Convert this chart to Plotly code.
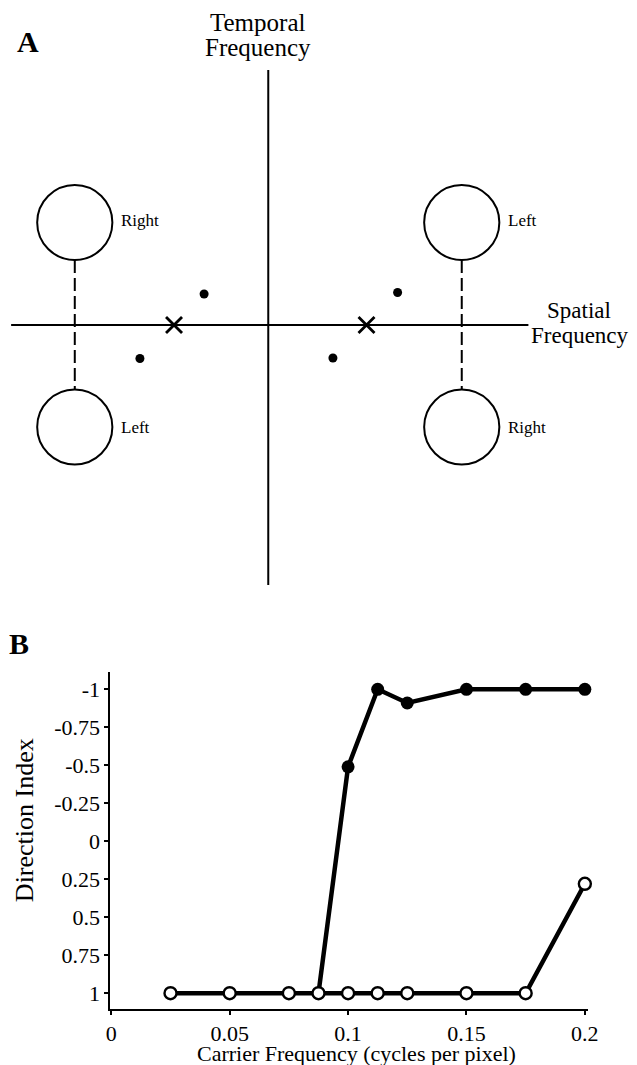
import plotly.graph_objects as go

# ---------------- Panel B data ----------------
carrier_freq_filled = [0.0875, 0.1, 0.1125, 0.125, 0.15, 0.175, 0.2]
direction_filled = [1.0, -0.49, -1.0, -0.91, -1.0, -1.0, -1.0]
carrier_freq_open = [0.025, 0.05, 0.075, 0.0875, 0.1, 0.1125, 0.125, 0.15, 0.175, 0.2]
direction_open = [1.0, 1.0, 1.0, 1.0, 1.0, 1.0, 1.0, 1.0, 1.0, 0.28]
x_tick_vals = [0, 0.05, 0.1, 0.15, 0.2]
x_tick_text = ["0", "0.05", "0.1", "0.15", "0.2"]
y_tick_vals = [-1, -0.75, -0.5, -0.25, 0, 0.25, 0.5, 0.75, 1]
y_tick_text = ["-1", "-0.75", "-0.5", "-0.25", "0", "0.25", "0.5", "0.75", "1"]

# ---------------- Panel A schematic (spatial / temporal frequency units) ----------------
circle_sf = [-193, -193, 193, 193]
circle_tf = [102.5, -102, 102.5, -102]
circle_radius = 37.5
circle_labels = ["Right", "Left", "Left", "Right"]
cross_sf = [-94, 98]
cross_tf = [0, 0]
dot_sf = [-64, -128, 129, 64.5]
dot_tf = [31, -33.5, 32.5, -33]
sf_axis_extent = [-256.5, 259.5]
tf_axis_extent = [-260, 255]

W, H = 637, 1065
FONT = "Liberation Serif"
# horizontal correction measured from earlier renders (rendered = S*x + O)
HS, HO = 0.974, 4.9


def fx(p):
    """figure pixel for a desired on-screen pixel (horizontal)"""
    return (p - HO) / HS


def px_x(p):
    return fx(p) / W


def px_y(p):
    return 1 - p / H


fig = go.Figure()

# ---- Panel A traces (xaxis / yaxis) ----
fig.add_trace(go.Scatter(x=sf_axis_extent, y=[0, 0], mode="lines",
                         line=dict(color="black", width=2.2), xaxis="x", yaxis="y",
                         showlegend=False, hoverinfo="skip"))
fig.add_trace(go.Scatter(x=[0, 0], y=tf_axis_extent, mode="lines",
                         line=dict(color="black", width=2), xaxis="x", yaxis="y",
                         showlegend=False, hoverinfo="skip"))
for sx in sorted(set(circle_sf)):
    tops = [t for s, t in zip(circle_sf, circle_tf) if s == sx]
    fig.add_trace(go.Scatter(x=[sx, sx], y=[max(tops) - circle_radius, min(tops) + circle_radius],
                             mode="lines", line=dict(color="black", width=2, dash="13px,5px"),
                             xaxis="x", yaxis="y", showlegend=False, hoverinfo="skip"))
fig.add_trace(go.Scatter(x=cross_sf, y=cross_tf, mode="markers",
                         marker=dict(symbol="x-thin", size=16, line=dict(color="black", width=2.8)),
                         xaxis="x", yaxis="y", showlegend=False, hoverinfo="skip"))
fig.add_trace(go.Scatter(x=dot_sf, y=dot_tf, mode="markers",
                         marker=dict(symbol="circle", size=9, color="black"),
                         xaxis="x", yaxis="y", showlegend=False, hoverinfo="skip"))

shapes = []
for cx, cy in zip(circle_sf, circle_tf):
    shapes.append(dict(type="circle", xref="x", yref="y",
                       x0=cx - circle_radius, x1=cx + circle_radius,
                       y0=cy - circle_radius, y1=cy + circle_radius,
                       line=dict(color="black", width=2), fillcolor="rgba(0,0,0,0)"))

annotations = []
for cx, cy, lab in zip(circle_sf, circle_tf, circle_labels):
    annotations.append(dict(x=cx + circle_radius + 7, y=cy + (2 if cy > 0 else 0), xref="x", yref="y",
                            text=lab, showarrow=False, xanchor="left", yanchor="middle",
                            font=dict(family=FONT, size=17, color="black")))

annotations += [
    dict(x=-10.5, y=303, xref="x", yref="y", text="Temporal", showarrow=False,
         xanchor="center", yanchor="middle", font=dict(family=FONT, size=25, color="black")),
    dict(x=-10.5, y=278, xref="x", yref="y", text="Frequency", showarrow=False,
         xanchor="center", yanchor="middle", font=dict(family=FONT, size=25, color="black")),
    dict(x=310, y=15, xref="x", yref="y", text="Spatial", showarrow=False,
         xanchor="center", yanchor="middle", font=dict(family=FONT, size=23, color="black")),
    dict(x=310.5, y=-10, xref="x", yref="y", text="Frequency", showarrow=False,
         xanchor="center", yanchor="middle", font=dict(family=FONT, size=23, color="black")),
    dict(x=px_x(28), y=px_y(42), xref="paper", yref="paper", text="<b>A</b>", showarrow=False,
         xanchor="center", yanchor="middle", font=dict(family=FONT, size=30, color="black")),
    dict(x=px_x(19), y=px_y(643), xref="paper", yref="paper", text="<b>B</b>", showarrow=False,
         xanchor="center", yanchor="middle", font=dict(family=FONT, size=30, color="black")),
    dict(x=px_x(356), y=px_y(1053), xref="paper", yref="paper",
         text="Carrier Frequency (cycles per pixel)", showarrow=False,
         xanchor="center", yanchor="middle", font=dict(family=FONT, size=22, color="black")),
    dict(x=px_x(24), y=px_y(820), xref="paper", yref="paper", text="Direction Index",
         showarrow=False, textangle=-90, xanchor="center", yanchor="middle",
         font=dict(family=FONT, size=26, color="black")),
]

# ---- Panel B traces (xaxis2 / yaxis2) ----
fig.add_trace(go.Scatter(x=carrier_freq_filled, y=direction_filled, mode="lines+markers",
                         line=dict(color="black", width=4.5),
                         marker=dict(symbol="circle", size=13, color="black"),
                         cliponaxis=False, xaxis="x2", yaxis="y2", showlegend=False))
fig.add_trace(go.Scatter(x=carrier_freq_open, y=direction_open, mode="lines+markers",
                         line=dict(color="black", width=4.5),
                         marker=dict(symbol="circle", size=12, color="white",
                                     line=dict(color="black", width=2.4)),
                         cliponaxis=False, xaxis="x2", yaxis="y2", showlegend=False))

fig.update_layout(
    width=W, height=H, autosize=False,
    margin=dict(l=0, r=0, t=0, b=0),
    paper_bgcolor="white", plot_bgcolor="rgba(0,0,0,0)",
    font=dict(family=FONT, color="black"),
    showlegend=False,
    # panel A: on-screen pixel p corresponds to data x = p - 267.5
    xaxis=dict(domain=[0, 1], range=[HO - 267.5, HS * W + HO - 267.5], visible=False, fixedrange=True),
    yaxis=dict(domain=[1 - 600 / H, 1], range=[-275, 325], visible=False, fixedrange=True),
    xaxis2=dict(domain=[px_x(110), px_x(586.6)], range=[-0.0004, 0.2014], anchor="y2",
                showline=True, linecolor="black", linewidth=2, showgrid=False, zeroline=False,
                ticks="outside", ticklen=4, tickwidth=2, tickcolor="black",
                tickvals=x_tick_vals, ticktext=x_tick_text,
                tickfont=dict(family=FONT, size=22, color="black")),
    yaxis2=dict(domain=[px_y(1009), px_y(671.7)], range=[1.104, -1.116], anchor="x2",
                showline=True, linecolor="black", linewidth=2, showgrid=False, zeroline=False,
                ticks="outside", ticklen=4, tickwidth=2, tickcolor="black",
                tickvals=y_tick_vals, ticktext=y_tick_text,
                tickfont=dict(family=FONT, size=22, color="black")),
    shapes=shapes,
    annotations=annotations,
)

post = ("document.documentElement.style.margin='0';document.documentElement.style.overflow='hidden';"
        "document.body.style.margin='0';document.body.style.overflow='hidden';")
fig.write_html("out.html", config={"displayModeBar": False, "responsive": False},
               post_script=post)
